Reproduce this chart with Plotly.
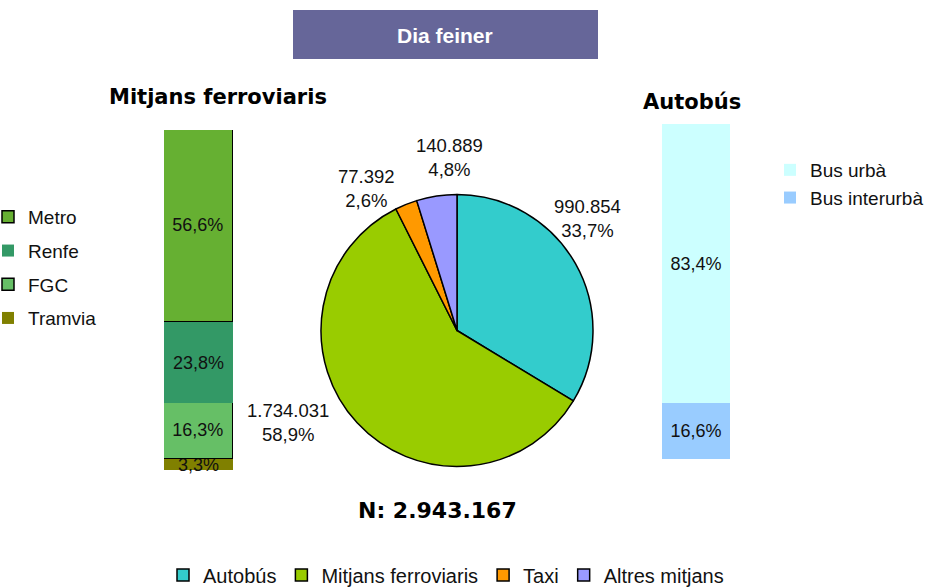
import plotly.graph_objects as go

# ---------------- data ----------------
pie_labels = ["Autobús", "Mitjans ferroviaris", "Taxi", "Altres mitjans"]
pie_values = [990854, 1734031, 77392, 140889]
pie_colors = ["#33CCCC", "#99CC00", "#FF9900", "#9999FF"]
n_total = 2943167

rail_labels = ["Tramvia", "FGC", "Renfe", "Metro"]          # bottom -> top
rail_values = [3.3, 16.3, 23.8, 56.6]
rail_colors = ["#808000", "#66BF66", "#339966", "#66B032"]
rail_outline = [0, 1.5, 0, 1.5]

bus_labels = ["Bus interurbà", "Bus urbà"]                 # bottom -> top
bus_values = [16.6, 83.4]
bus_colors = ["#99CCFF", "#CCFFFF"]

W, H = 928, 588
FONT = "Liberation Sans, Arial, sans-serif"
BOLD = "DejaVu Sans, Verdana, sans-serif"
TXT = "#111111"


def px(x):
    return x / W


def py(y):
    return 1 - y / H


fig = go.Figure()

# pie
fig.add_trace(go.Pie(
    labels=pie_labels, values=pie_values, sort=False, direction="clockwise",
    rotation=0, marker=dict(colors=pie_colors, line=dict(color="black", width=1.5)),
    textinfo="none", hoverinfo="label+value+percent",
    domain=dict(x=[px(321), px(593)], y=[py(467), py(194)]),
    legend="legend", showlegend=True,
))

# left stacked bar (Mitjans ferroviaris)
n_rail = len(rail_labels)
for i, (lab, val, col, lw) in enumerate(zip(rail_labels, rail_values, rail_colors, rail_outline)):
    fig.add_trace(go.Bar(
        x=[0], y=[val], name=lab, width=1, xaxis="x", yaxis="y",
        marker=dict(color=col, line=dict(color="black", width=lw)),
        texttemplate="%{y:.1f}%", textposition="inside", insidetextanchor="middle",
        textangle=0, constraintext="none", cliponaxis=False,
        textfont=dict(family=FONT, size=18, color=TXT),
        legend="legend2", legendgroup=lab, legendrank=n_rail - i,
    ))

# right stacked bar (Autobús)
n_bus = len(bus_labels)
for i, (lab, val, col) in enumerate(zip(bus_labels, bus_values, bus_colors)):
    fig.add_trace(go.Bar(
        x=[0], y=[val], name=lab, width=1, xaxis="x2", yaxis="y2",
        marker=dict(color=col, line=dict(width=0)),
        texttemplate="%{y:.1f}%", textposition="inside", insidetextanchor="middle",
        textangle=0, constraintext="none", cliponaxis=False,
        textfont=dict(family=FONT, size=18, color=TXT),
        legend="legend3", legendgroup=lab, legendrank=n_bus - i,
    ))

# pie value labels
label_pos = [(587, 218), (288, 422), (366, 189), (449, 158)]
annotations = []
tot = sum(pie_values)
for v, (ax_, ay_) in zip(pie_values, label_pos):
    val_txt = f"{v:,}".replace(",", ".")
    pct_txt = f"{100 * v / tot:.1f}".replace(".", ",") + "%"
    annotations.append(dict(
        x=px(ax_), y=py(ay_), xref="paper", yref="paper", showarrow=False,
        text=f"{val_txt}<br>{pct_txt}", align="center",
        font=dict(family=FONT, size=18.5, color=TXT),
        xanchor="center", yanchor="middle",
    ))

annotations += [
    dict(x=px(445), y=py(35), xref="paper", yref="paper", showarrow=False,
         text="<b>Dia feiner</b>", font=dict(family=FONT, size=21, color="white"),
         xanchor="center", yanchor="middle"),
    dict(x=px(218), y=py(97), xref="paper", yref="paper", showarrow=False,
         text="<b>Mitjans ferroviaris</b>", font=dict(family=BOLD, size=21, color="black"),
         xanchor="center", yanchor="middle"),
    dict(x=px(692), y=py(102), xref="paper", yref="paper", showarrow=False,
         text="<b>Autobús</b>", font=dict(family=BOLD, size=21, color="black"),
         xanchor="center", yanchor="middle"),
    dict(x=px(437), y=py(510), xref="paper", yref="paper", showarrow=False,
         text="<b>N: " + f"{n_total:,}".replace(",", ".") + "</b>",
         font=dict(family=BOLD, size=22, color="black"),
         xanchor="center", yanchor="middle"),
]

hidden = dict(visible=False, fixedrange=True)
fig.update_layout(
    width=W, height=H, margin=dict(l=0, r=0, t=0, b=0, autoexpand=False),
    paper_bgcolor="white", plot_bgcolor="white",
    separators=",.", barmode="stack", bargap=0,
    font=dict(family=FONT, size=18, color=TXT),
    uniformtext=dict(minsize=18, mode="show"),
    xaxis=dict(domain=[px(164), px(233)], range=[-0.5, 0.5], **hidden),
    yaxis=dict(domain=[py(470), py(130)], range=[0, 100], **hidden),
    xaxis2=dict(domain=[px(662), px(730)], range=[-0.5, 0.5], anchor="y2", **hidden),
    yaxis2=dict(domain=[py(459), py(124)], range=[0, 100], anchor="x2", **hidden),
    legend=dict(orientation="h", x=px(163), y=py(575), xanchor="left", yanchor="middle",
                font=dict(family=FONT, size=20, color=TXT), bgcolor="rgba(0,0,0,0)"),
    legend2=dict(x=px(-12), y=py(198), xanchor="left", yanchor="top",
                 traceorder="grouped", tracegroupgap=6,
                 font=dict(family=FONT, size=19, color=TXT), bgcolor="rgba(0,0,0,0)"),
    legend3=dict(x=px(770), y=py(151), xanchor="left", yanchor="top",
                 traceorder="grouped", tracegroupgap=0,
                 font=dict(family=FONT, size=19, color=TXT), bgcolor="rgba(0,0,0,0)"),
    shapes=[dict(type="rect", xref="paper", yref="paper",
                 x0=px(293), x1=px(598), y0=py(59), y1=py(10),
                 fillcolor="#666699", line=dict(width=0), layer="below")],
    annotations=annotations,
)

fig.write_html("out.html", config={"displayModeBar": False},
               post_script="document.body.style.margin='0';")
